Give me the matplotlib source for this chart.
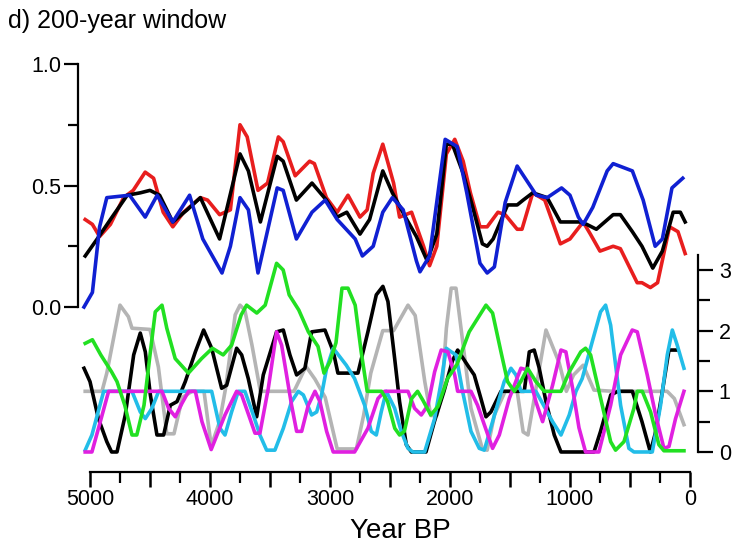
import matplotlib
matplotlib.use("Agg")
import matplotlib.pyplot as plt
from matplotlib.ticker import FixedLocator

# upper panel (left axis, 0-1)
red_years = [5040, 4980, 4920, 4830, 4720, 4640, 4540, 4470, 4390, 4310, 4220, 4080, 4020, 3920, 3830,
             3750, 3690, 3600, 3520, 3430, 3390, 3290, 3170, 3130, 3030, 2940, 2850, 2750, 2690, 2640,
             2560, 2470, 2420, 2320, 2220, 2170, 2110, 2030, 1960, 1890, 1830, 1750, 1690, 1600, 1540,
             1440, 1400, 1310, 1210, 1080, 1000, 890, 830, 750, 640, 580, 440, 400, 330, 270, 170, 100, 40]
red_values = [0.36, 0.34, 0.29, 0.34, 0.45, 0.48, 0.555, 0.53, 0.39, 0.33, 0.39, 0.45, 0.44, 0.38, 0.40,
              0.75, 0.70, 0.48, 0.51, 0.70, 0.68, 0.54, 0.60, 0.59, 0.45, 0.39, 0.46, 0.37, 0.40, 0.55,
              0.67, 0.51, 0.37, 0.39, 0.25, 0.17, 0.25, 0.63, 0.69, 0.60, 0.47, 0.33, 0.33, 0.39, 0.38,
              0.32, 0.32, 0.47, 0.44, 0.26, 0.28, 0.35, 0.30, 0.23, 0.25, 0.24, 0.10, 0.10, 0.08, 0.10,
              0.33, 0.31, 0.22]

black_years = [5040, 4940, 4830, 4690, 4580, 4500, 4420, 4310, 4190, 4080, 3920, 3750, 3680, 3580, 3440,
               3390, 3280, 3150, 3030, 2940, 2860, 2750, 2670, 2560, 2480, 2360, 2280, 2190, 2110, 2030,
               1980, 1890, 1810, 1730, 1690, 1640, 1520, 1440, 1390, 1310, 1190, 1080, 920, 860, 780,
               640, 580, 480, 400, 310, 230, 140, 80, 40]
black_values = [0.21, 0.28, 0.36, 0.46, 0.47, 0.48, 0.46, 0.35, 0.40, 0.45, 0.28, 0.63, 0.56, 0.35, 0.62,
                0.60, 0.44, 0.51, 0.44, 0.37, 0.39, 0.30, 0.36, 0.56, 0.47, 0.36, 0.29, 0.19, 0.30, 0.67,
                0.67, 0.55, 0.41, 0.26, 0.25, 0.28, 0.42, 0.42, 0.44, 0.47, 0.45, 0.35, 0.35, 0.34, 0.32,
                0.38, 0.38, 0.31, 0.25, 0.16, 0.23, 0.39, 0.39, 0.35]

blue_years = [5050, 4980, 4920, 4860, 4670, 4540, 4440, 4310, 4170, 4060, 3900, 3830, 3750, 3680, 3600,
              3440, 3390, 3280, 3150, 3040, 2940, 2790, 2730, 2640, 2560, 2480, 2390, 2280, 2250, 2170,
              2040, 1940, 1860, 1750, 1690, 1630, 1540, 1440, 1360, 1280, 1190, 1070, 1000, 930, 890,
              810, 690, 640, 480, 390, 290, 230, 150, 60]
blue_values = [0.00, 0.06, 0.33, 0.45, 0.46, 0.37, 0.46, 0.35, 0.46, 0.28, 0.14, 0.25, 0.45, 0.40, 0.14,
               0.49, 0.48, 0.28, 0.39, 0.44, 0.36, 0.28, 0.21, 0.25, 0.39, 0.45, 0.40, 0.19, 0.145, 0.21,
               0.69, 0.66, 0.47, 0.18, 0.14, 0.165, 0.43, 0.58, 0.52, 0.46, 0.45, 0.49, 0.46, 0.37, 0.34,
               0.41, 0.56, 0.59, 0.56, 0.44, 0.25, 0.28, 0.49, 0.53]

# lower panel (right axis, 0-3)
gray_years = [5040, 4900, 4860, 4750, 4680, 4650, 4500, 4430, 4390, 4360, 4300, 4230, 4150, 4050, 3990,
              3920, 3870, 3790, 3750, 3710, 3650, 3580, 3300, 3200, 3125, 3040, 2940, 2780, 2720, 2660,
              2560, 2470, 2350, 2290, 2210, 2160, 2110, 2070, 2030, 1990, 1950, 1880, 1825, 1730, 1690,
              1630, 1540, 1440, 1390, 1350, 1200, 1090, 1030, 970, 890, 800, 640, 190, 130, 50]
gray_values = [1.0, 1.0, 1.3, 2.42, 2.23, 2.04, 2.02, 1.4, 0.77, 0.3, 0.3, 0.9, 1.0, 1.0, 0.1,
               0.5, 1.05, 2.26, 2.42, 2.34, 1.76, 1.0, 1.0, 1.41, 1.2, 0.9, 0.05, 0.05, 0.6, 1.3,
               2.0, 2.0, 2.42, 2.25, 1.16, 0.6, 0.6, 0.94, 2.04, 2.7, 2.7, 1.6, 0.72, 0.05, 0.03,
               0.61, 1.0, 1.0, 0.33, 0.28, 2.01, 1.47, 1.0, 1.27, 1.43, 1.02, 1.0, 1.0, 0.88, 0.45]

green_years = [5040, 4980, 4910, 4820, 4775, 4710, 4650, 4610, 4550, 4500, 4456, 4400, 4360, 4290, 4180,
               4070, 3980, 3890, 3820, 3740, 3695, 3610, 3540, 3445, 3390, 3340, 3260, 3180, 3100, 3050,
               3000, 2950, 2900, 2850, 2790, 2740, 2690, 2570, 2520, 2460, 2420, 2380, 2320, 2270, 2225,
               2160, 2100, 2020, 1940, 1840, 1700, 1645, 1575, 1520, 1464, 1410, 1353, 1284, 1214, 1075,
               1006, 910, 870, 828, 745, 661, 620, 550, 467, 439, 397, 328, 259, 217, 50]
green_values = [1.79, 1.85, 1.6, 1.32, 1.16, 0.77, 0.28, 0.28, 0.77, 1.6, 2.31, 2.42, 2.04, 1.54, 1.3,
                1.54, 1.71, 1.6, 1.76, 2.26, 2.42, 2.29, 2.42, 3.11, 3.0, 2.59, 2.34, 1.98, 1.74, 1.3,
                1.49, 1.8, 2.7, 2.7, 2.42, 1.65, 1.0, 1.0, 0.83, 0.39, 0.28, 0.34, 0.88, 1.0, 0.85,
                0.61, 0.75, 1.21, 1.45, 1.98, 2.42, 2.29, 1.65, 1.16, 1.0, 1.16, 1.38, 1.16, 1.0, 1.0,
                1.32, 1.65, 1.71, 1.6, 0.89, 0.17, 0.03, 0.17, 0.72, 1.0, 1.0, 0.66, 0.12, 0.02, 0.02]

black2_years = [5050, 5000, 4930, 4860, 4820, 4775, 4706, 4636, 4581, 4539, 4497, 4442, 4386, 4331, 4275,
                4206, 4122, 4053, 3986, 3903, 3861, 3778, 3736, 3681, 3611, 3556, 3445, 3389, 3334, 3278,
                3209, 3153, 3042, 2972, 2934, 2767, 2684, 2614, 2559, 2517, 2461, 2420, 2364, 2322, 2200,
                2130, 2050, 1980, 1936, 1853, 1798, 1742, 1700, 1659, 1575, 1381, 1339, 1298, 1256, 1200,
                1131, 1075, 800, 745, 660, 600, 480, 400, 330, 290, 230, 175, 110]
black2_values = [1.38, 1.16, 0.55, 0.17, 0.0, 0.0, 0.61, 1.6, 1.96, 1.65, 0.94, 0.28, 0.28, 0.77, 0.83,
                 1.16, 1.65, 2.01, 1.71, 1.05, 1.1, 1.71, 1.6, 1.21, 0.58, 1.27, 1.98, 2.01, 1.6, 1.27,
                 1.38, 1.98, 2.01, 1.65, 1.3, 1.3, 1.98, 2.59, 2.73, 2.48, 1.54, 0.83, 0.12, 0.0, 0.0,
                 0.5, 1.0, 1.5, 1.68, 1.43, 1.27, 0.88, 0.58, 0.66, 1.0, 1.0, 1.65, 1.68, 1.38, 0.83,
                 0.28, 0.0, 0.0, 0.34, 0.94, 1.0, 1.0, 0.5, 0.0, 0.3, 1.0, 1.68, 1.68]

cyan_years = [5040, 4984, 4886, 4650, 4581, 4539, 4484, 4428, 3986, 3917, 3875, 3820, 3764, 3709, 3639,
              3584, 3528, 3459, 3389, 3320, 3264, 3222, 3153, 3111, 3070, 3028, 2973, 2864, 2795, 2711,
              2656, 2614, 2573, 2531, 2461, 2406, 2350, 2309, 2211, 2128, 2073, 2031, 1989, 1950, 1895,
              1825, 1756, 1714, 1645, 1548, 1492, 1450, 1409, 1284, 1145, 1075, 1006, 950, 898, 814,
              745, 703, 661, 578, 509, 467, 314, 245, 189, 147, 106, 50]
cyan_values = [0.03, 0.28, 1.0, 1.0, 0.66, 0.55, 0.72, 1.0, 1.0, 0.39, 0.28, 0.66, 1.0, 1.0, 0.61,
               0.28, 0.03, 0.03, 0.39, 0.83, 1.0, 0.94, 0.61, 0.66, 0.94, 1.38, 1.71, 1.43, 1.21, 0.77,
               0.34, 0.28, 0.66, 1.0, 0.72, 0.34, 0.06, 0.0, 0.0, 0.55, 1.16, 1.71, 1.65, 1.6, 1.0,
               0.34, 0.06, 0.03, 0.5, 1.16, 1.38, 1.27, 1.0, 1.0, 0.5, 0.28, 0.61, 1.0, 1.21, 1.82,
               2.31, 2.42, 2.09, 0.77, 0.06, 0.0, 0.0, 0.77, 1.6, 2.01, 1.76, 1.38]

magenta_years = [5040, 4984, 4914, 4845, 4400, 4345, 4289, 4234, 4178, 4122, 4067, 3990, 3875, 3778, 3736,
                 3667, 3625, 3584, 3514, 3445, 3403, 3320, 3278, 3236, 3181, 3125, 3084, 3028, 2973, 2795,
                 2684, 2600, 2545, 2350, 2295, 2239, 2184, 2128, 2073, 2017, 1961, 1936, 1825, 1770, 1714,
                 1645, 1589, 1506, 1409, 1353, 1284, 1228, 1145, 1075, 1034, 978, 925, 870, 759, 661,
                 578, 481, 439, 356, 286, 217, 175, 120, 50]
magenta_values = [0.0, 0.0, 0.5, 1.0, 1.0, 0.72, 0.58, 0.8, 1.0, 1.0, 0.5, 0.04, 0.61, 1.0, 0.94,
                  0.55, 0.31, 0.31, 1.05, 1.98, 1.76, 0.77, 0.34, 0.34, 0.77, 1.0, 0.83, 0.34, 0.0, 0.0,
                  0.39, 0.88, 1.0, 1.0, 0.72, 0.61, 0.77, 1.32, 1.68, 1.65, 1.27, 1.0, 1.0, 0.77, 0.45,
                  0.06, 0.28, 0.88, 1.38, 1.35, 0.83, 0.5, 1.1, 1.68, 1.65, 1.05, 0.4, 0.0, 0.0, 0.77,
                  1.6, 2.01, 1.98, 1.27, 0.61, 0.06, 0.09, 0.55, 1.0]

x_major = [0, 500, 1000, 1500, 2000, 2500, 3000, 3500, 4000, 4500, 5000]
x_labels = ["0", "", "1000", "", "2000", "", "3000", "", "4000", "", "5000"]
x_minor = [250, 750, 1250, 1750, 2250, 2750, 3250, 3750, 4250, 4750]

plt.rcParams["font.family"] = ["Liberation Sans", "DejaVu Sans"]

fig = plt.figure(figsize=(7.46, 5.48), dpi=100)
W, H = 746, 548
ax = fig.add_axes([78 / W, (H - 472) / H, (698 - 78) / W, (472 - 60) / H])
ax2 = ax.twinx()

lw = 2.6
ax.plot(red_years, red_values, color="#e81e1e", lw=lw, zorder=2)
ax.plot(black_years, black_values, color="black", lw=lw, zorder=3)
ax.plot(blue_years, blue_values, color="#1020d2", lw=lw, zorder=4)

ax2.plot(gray_years, gray_values, color="#b4b4b4", lw=lw, zorder=2)
ax2.plot(black2_years, black2_values, color="black", lw=lw, zorder=3)
ax2.plot(cyan_years, cyan_values, color="#22bde8", lw=lw, zorder=4)
ax2.plot(magenta_years, magenta_values, color="#e020e0", lw=lw, zorder=5)
ax2.plot(green_years, green_values, color="#22e022", lw=lw, zorder=6)

ax.set_xlim(5100, -67)
ax.set_ylim(-0.679, 1.0165)
ax2.set_ylim(-0.33, 6.461)

for side in ["top", "right"]:
    ax.spines[side].set_visible(False)
for side in ["top", "left", "bottom"]:
    ax2.spines[side].set_visible(False)
ax.spines["left"].set_bounds(0, 1)
ax.spines["bottom"].set_bounds(0, 5000)
ax2.spines["right"].set_bounds(0, 3.25)
for sp in [ax.spines["left"], ax.spines["bottom"], ax2.spines["right"]]:
    sp.set_linewidth(1.6)

ax.set_xticks(x_major)
ax.set_xticklabels(x_labels)
ax.xaxis.set_minor_locator(FixedLocator(x_minor))
ax.set_yticks([0, 0.5, 1.0])
ax.set_yticklabels(["0.0", "0.5", "1.0"])
ax.yaxis.set_minor_locator(FixedLocator([0.25, 0.75]))
ax2.set_yticks([0, 1, 2, 3])
ax2.set_yticklabels(["0", "1", "2", "3"])
ax2.yaxis.set_minor_locator(FixedLocator([0.5, 1.5, 2.5]))

ax.tick_params(axis="x", which="major", length=10.5, width=1.8, labelsize=15.5, pad=2)
ax.tick_params(axis="x", which="minor", length=8, width=1.6)
ax.tick_params(axis="y", which="major", length=10, width=1.6, labelsize=15.5, pad=2)
ax.tick_params(axis="y", which="minor", length=7, width=1.6)
ax2.tick_params(axis="y", which="major", length=11, width=1.6, labelsize=15.5, pad=4)
ax2.tick_params(axis="y", which="minor", length=8.5, width=1.6)

fig.text(400 / W, 1 - 531 / H, "Year BP", fontsize=20, ha="center", va="center")
fig.text(8 / W, 1 - 21 / H, "d) 200-year window", fontsize=18, ha="left", va="center")

fig.savefig("out.png", dpi=100)
